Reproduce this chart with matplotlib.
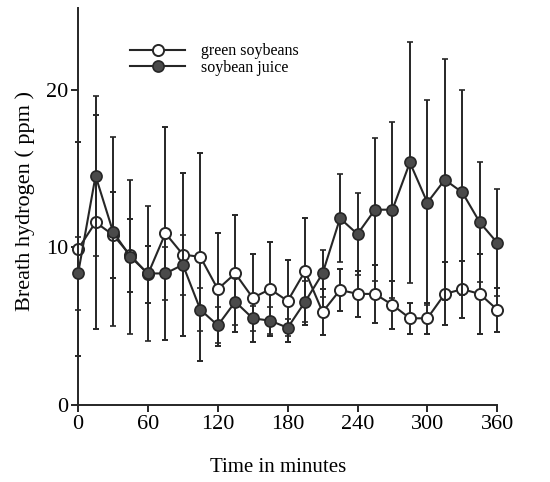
import numpy as np
import matplotlib
matplotlib.use("Agg")
import matplotlib.pyplot as plt
from matplotlib.lines import Line2D

plt.rcParams['font.family'] = ['Liberation Serif', 'DejaVu Serif']

minutes = list(range(0, 361, 15))

green_mean = [9.9, 11.6, 10.8, 9.5, 8.3, 10.9, 9.55, 9.4, 7.35, 8.35, 6.8, 7.35, 6.6,
              8.5, 5.9, 7.3, 7.05, 7.05, 6.35, 5.5, 5.5, 7.05, 7.35, 7.05, 6.05]
green_err = [6.8, 6.8, 2.75, 2.3, 1.8, 6.75, 5.2, 6.6, 3.6, 3.7, 2.8, 3.0, 2.6,
             3.4, 1.45, 1.35, 1.45, 1.85, 1.5, 1.0, 1.0, 2.0, 1.8, 2.55, 1.4]

juice_mean = [8.35, 14.55, 11.0, 9.4, 8.35, 8.35, 8.9, 6.05, 5.05, 6.55, 5.5, 5.35, 4.9,
              6.55, 8.35, 11.85, 10.85, 12.4, 12.4, 15.4, 12.85, 14.3, 13.5, 11.6, 10.3]
juice_err = [2.3, 5.1, 6.0, 4.9, 4.3, 1.7, 1.9, 1.35, 1.15, 1.5, 0.8, 0.85, 0.55,
             1.3, 1.5, 2.8, 2.6, 4.55, 5.6, 7.65, 6.5, 7.65, 6.5, 3.8, 3.4]

ink = '#262626'
dark = '#4a4a4a'

fig = plt.figure(figsize=(5.5, 4.82), dpi=100)
ax = fig.add_axes([0.142, 0.160, 0.762, 0.823])

style = dict(color=ink, lw=1.5, elinewidth=1.4, capsize=2.5, capthick=1.4,
             marker='o', ms=8, mec=ink)
eb1 = ax.errorbar(minutes, green_mean, yerr=green_err, mfc='white', mew=1.4,
                  zorder=3, **style)
eb2 = ax.errorbar(minutes, juice_mean, yerr=juice_err, mfc=dark, mew=1.2,
                  zorder=4, **style)
# keep the markers and bars at 0 and 360 from being cut by the axes edge
for eb in (eb1, eb2):
    eb.lines[0].set_clip_on(False)
    for art in eb.lines[1]:
        art.set_clip_on(False)
    for art in eb.lines[2]:
        art.set_clip_on(False)

ax.set_xlim(0, 360)
ax.set_ylim(0, 25.2)
ax.set_xticks(range(0, 361, 60))
ax.set_yticks([0, 10, 20])
ax.spines['top'].set_visible(False)
ax.spines['right'].set_visible(False)
for s in ('left', 'bottom'):
    ax.spines[s].set_linewidth(1.4)
    ax.spines[s].set_color(ink)
ax.tick_params(direction='out', length=5, width=1.4, color=ink,
               labelsize=16, labelcolor='black', pad=2)

ax.set_xlabel('Time in minutes', fontsize=15)
ax.xaxis.set_label_coords(0.477, -0.135)
fig.text(0.046, (482 - 311) / 482, 'Breath hydrogen ( ppm )', fontsize=16,
         rotation=90, ha='center', va='bottom')

handles = [Line2D([], [], color=ink, lw=1.5, marker='o', ms=8, mfc='white',
                  mec=ink, mew=1.4),
           Line2D([], [], color=ink, lw=1.5, marker='o', ms=8, mfc=dark,
                  mec=ink, mew=1.2)]
ax.legend(handles, ['green soybeans', 'soybean juice'], loc='upper left',
          bbox_to_anchor=(0.125, 0.912), frameon=False, fontsize=11.5,
          handlelength=3.4, handletextpad=1.0, labelspacing=0.05,
          borderaxespad=0, borderpad=0)

fig.savefig('out.png', dpi=100)
